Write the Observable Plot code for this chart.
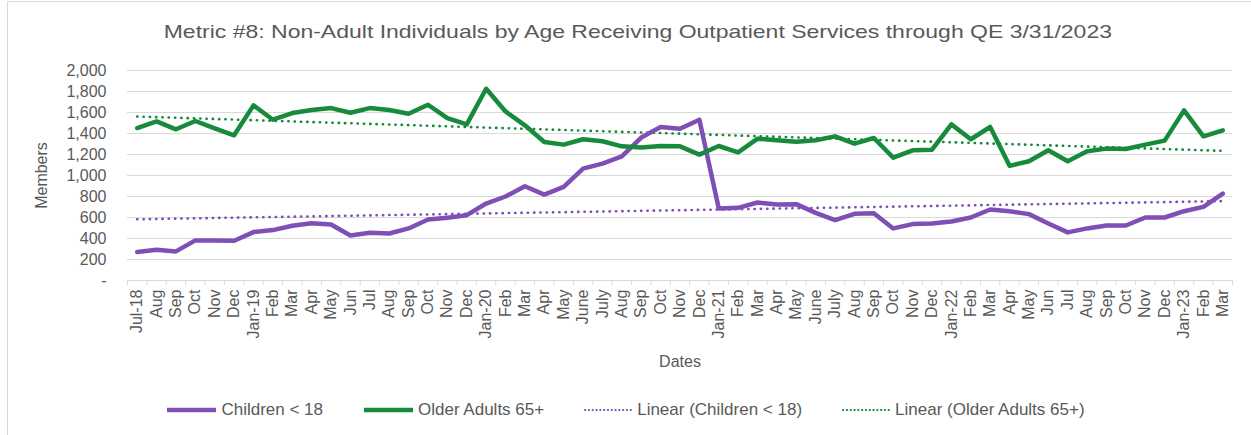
<!DOCTYPE html>
<html>
<head>
<meta charset="utf-8">
<script src="https://cdn.jsdelivr.net/npm/d3@7"></script>
<script src="https://cdn.jsdelivr.net/npm/@observablehq/plot@0.6"></script>
<style>
  html, body { margin: 0; padding: 0; background: #fff; }
  #wrap { position: relative; width: 1251px; height: 435px; overflow: hidden; font-family: "Liberation Sans", Arial, sans-serif; color: #595959; }
  #frame { position: absolute; left: 7px; top: 1px; width: 1400px; height: 600px; border-left: 1px solid #d9d9d9; border-top: 1px solid #d9d9d9; pointer-events: none; }
  #title { height: 50px; box-sizing: border-box; padding-top: 22px; padding-left: 24px; font-size: 19px; line-height: 19px; text-align: center; white-space: nowrap; }
  #title span { display: inline-block; transform: scaleX(1.21); transform-origin: center; }
  #chart svg { display: block; }
  #legend { display: flex; justify-content: center; align-items: center; gap: 40px; margin-top: 20px; height: 20px; font-size: 17px; }
  #legend .item { display: flex; align-items: center; gap: 4px; }
</style>
</head>
<body>
<div id="wrap">
  <div id="frame"></div>
  <div id="title"><span>Metric #8: Non-Adult Individuals by Age Receiving Outpatient Services through QE 3/31/2023</span></div>
  <div id="chart"></div>
  <div id="legend"></div>
</div>
<script>
const months = ["Jul-18","Aug","Sep","Oct","Nov","Dec","Jan-19","Feb","Mar","Apr","May","Jun","Jul","Aug","Sep","Oct","Nov","Dec","Jan-20","Feb","Mar","Apr","May","June","July","Aug","Sep","Oct","Nov","Dec","Jan-21","Feb","Mar","Apr","May","June","July","Aug","Sep","Oct","Nov","Dec","Jan-22","Feb","Mar","Apr","May","Jun","Jul","Aug","Sep","Oct","Nov","Dec","Jan-23","Feb","Mar"];

const children = [271,293,277,382,382,378,461,480,521,546,534,429,455,448,496,581,597,622,733,800,898,818,891,1066,1113,1183,1361,1462,1446,1531,686,692,743,724,727,644,575,635,641,496,537,543,562,600,676,660,632,543,458,496,524,524,600,600,660,701,828];

const olderAdults = [1452,1515,1440,1519,1449,1383,1668,1531,1595,1623,1642,1598,1642,1623,1588,1674,1547,1487,1826,1610,1478,1319,1294,1345,1326,1278,1266,1281,1278,1199,1281,1221,1351,1335,1322,1335,1373,1303,1357,1170,1240,1246,1487,1345,1462,1092,1136,1240,1136,1230,1256,1253,1294,1332,1620,1373,1430];

const seriesNames = ["Children < 18", "Older Adults 65+"];
const colors = ["#7F4FB6", "#178A3B"];
const yTicks = [0,200,400,600,800,1000,1200,1400,1600,1800,2000];

const rows = months.map((m, i) => ({i, children: children[i], older: olderAdults[i]}));
const idx = d3.range(months.length);
const bounds = d3.range(months.length + 1).map(k => k - 0.5);

const fmt = d3.format(",");
const plot = Plot.plot({
  width: 1251,
  height: 330,
  marginTop: 20,
  marginBottom: 100,
  marginLeft: 127,
  marginRight: 19,
  style: {fontFamily: "'Liberation Sans', Arial, sans-serif", fontSize: "16px", color: "#595959", background: "transparent"},
  x: {domain: [-0.5, months.length - 0.5]},
  y: {domain: [0, 2000]},
  marks: [
    Plot.gridY(yTicks.filter(d => d > 0), {stroke: "#d9d9d9", strokeOpacity: 1, strokeWidth: 1}),
    Plot.ruleY([0], {stroke: "#d9d9d9", strokeWidth: 1}),
    Plot.axisY(yTicks, {tickSize: 0, tickPadding: 21, tickFormat: d => d === 0 ? "-" : fmt(d), label: "Members", labelAnchor: "center", labelArrow: "none", labelOffset: 92, fontSize: 16}),
    Plot.axisX(bounds, {tickSize: 5, stroke: "#d9d9d9", tickFormat: () => "", label: null}),
    Plot.axisX(idx, {tickSize: 0, tickPadding: 9, tickRotate: -90, tickFormat: i => months[i], label: "Dates", labelAnchor: "center", labelArrow: "none", labelOffset: 86, fontSize: 16}),
    Plot.linearRegressionY(rows, {x: "i", y: "children", ci: 0, stroke: colors[0], strokeWidth: 2.6, strokeDasharray: "0.3,6", strokeLinecap: "round"}),
    Plot.linearRegressionY(rows, {x: "i", y: "older", ci: 0, stroke: colors[1], strokeWidth: 2.6, strokeDasharray: "0.3,6", strokeLinecap: "round"}),
    Plot.line(rows, {x: "i", y: "children", stroke: colors[0], strokeWidth: 4.5, strokeLinejoin: "round"}),
    Plot.line(rows, {x: "i", y: "older", stroke: colors[1], strokeWidth: 4.5, strokeLinejoin: "round"})
  ]
});
document.getElementById("chart").appendChild(plot);

const legendItems = [
  {label: seriesNames[0], color: colors[0], dotted: false},
  {label: seriesNames[1], color: colors[1], dotted: false},
  {label: "Linear (" + seriesNames[0] + ")", color: colors[0], dotted: true},
  {label: "Linear (" + seriesNames[1] + ")", color: colors[1], dotted: true}
];
const legend = document.getElementById("legend");
for (const it of legendItems) {
  const div = document.createElement("div");
  div.className = "item";
  const w = it.dotted ? 49 : 51;
  div.innerHTML = `<svg width="${w}" height="10"><line x1="1" x2="${w - 1}" y1="5" y2="5" stroke="${it.color}" stroke-width="${it.dotted ? 2 : 4.5}" ${it.dotted ? 'stroke-dasharray="0.3,3.5" stroke-linecap="round"' : ''}/></svg><span>${it.label}</span>`;
  legend.appendChild(div);
}
</script>
</body>
</html>
